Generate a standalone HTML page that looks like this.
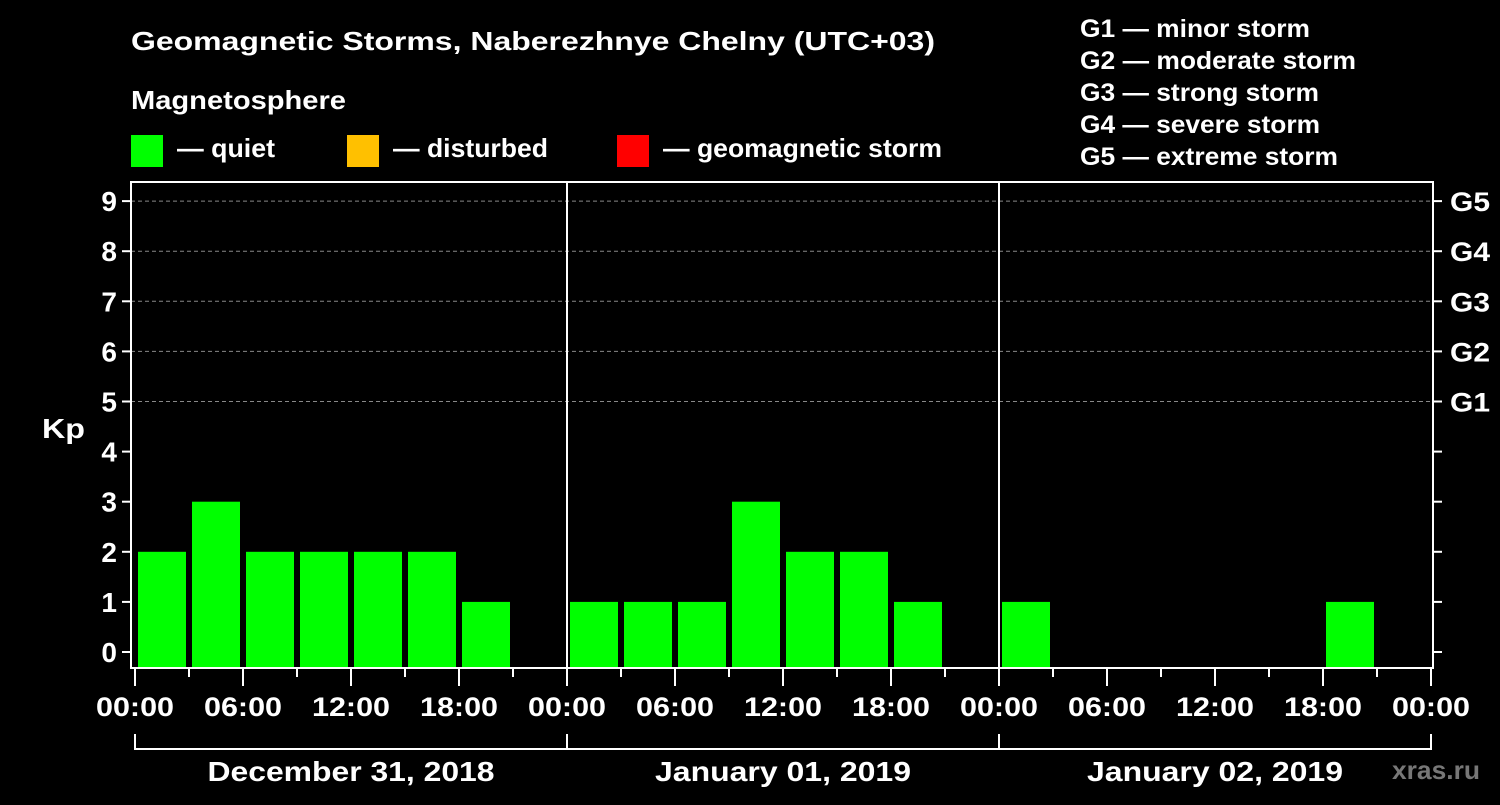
<!DOCTYPE html>
<html><head><meta charset="utf-8"><style>
body{margin:0;background:#000;width:1500px;height:800px;overflow:hidden}
svg text{font-family:"Liberation Sans",Arial,sans-serif;font-weight:bold;fill:#fff}
</style></head><body>
<svg id="c" width="1500" height="800" xmlns="http://www.w3.org/2000/svg">
<rect width="1500" height="800" fill="#000"/>
<text x="131" y="50" font-size="26" textLength="804" lengthAdjust="spacingAndGlyphs">Geomagnetic Storms, Naberezhnye Chelny (UTC+03)</text>
<text x="131" y="109" font-size="26" textLength="215" lengthAdjust="spacingAndGlyphs">Magnetosphere</text>
<rect x="131" y="135" width="32" height="32" fill="#00ff00"/>
<text x="177" y="157" font-size="26" textLength="98" lengthAdjust="spacingAndGlyphs">— quiet</text>
<rect x="347" y="135" width="32" height="32" fill="#ffc000"/>
<text x="393" y="157" font-size="26" textLength="155" lengthAdjust="spacingAndGlyphs">— disturbed</text>
<rect x="617" y="135" width="32" height="32" fill="#ff0000"/>
<text x="663" y="157" font-size="26" textLength="279" lengthAdjust="spacingAndGlyphs">— geomagnetic storm</text>
<g font-size="25">
<text x="1080" y="37" textLength="230" lengthAdjust="spacingAndGlyphs">G1 — minor storm</text>
<text x="1080" y="69" textLength="276" lengthAdjust="spacingAndGlyphs">G2 — moderate storm</text>
<text x="1080" y="101" textLength="239" lengthAdjust="spacingAndGlyphs">G3 — strong storm</text>
<text x="1080" y="133" textLength="240" lengthAdjust="spacingAndGlyphs">G4 — severe storm</text>
<text x="1080" y="165" textLength="258" lengthAdjust="spacingAndGlyphs">G5 — extreme storm</text>
</g>
<text x="42" y="438" font-size="28" textLength="43" lengthAdjust="spacingAndGlyphs">Kp</text>
<text x="1392" y="779" font-size="26" textLength="88" lengthAdjust="spacingAndGlyphs" style="fill:#777">xras.ru</text>
<g id="plot"></g>
</svg>
<script>
const kpValues=[2,3,2,2,2,2,1,0, 1,1,1,3,2,2,1,0, 1,0,0,0,0,0,1,0];
const yTicks=[0,1,2,3,4,5,6,7,8,9];
const gLabels=["G1","G2","G3","G4","G5"];
const xTickLabels=["00:00","06:00","12:00","18:00"];
const dayLabels=["December 31, 2018","January 01, 2019","January 02, 2019"];
const NS="http://www.w3.org/2000/svg";
const g=document.getElementById('plot');
const X0=135,DAY=432,L=131,R=1433,T=182,B=668;
const x=h=>X0+h*DAY/24;
const y=v=>652-v*50.1;
function mk(t,a){const e=document.createElementNS(NS,t);for(const k in a)e.setAttribute(k,a[k]);g.appendChild(e);return e;}
yTicks.forEach(v=>{
 if(v>=5){const l=mk('line',{x1:L,x2:R,y1:y(v),y2:y(v),stroke:'#888','stroke-dasharray':'4,3'});
 
 }
 const t=mk('line',{x1:L-9,x2:L,y1:y(v),y2:y(v),stroke:'#fff','stroke-width':2});
 
 
 const t2=mk('line',{x1:R,x2:R+9,y1:y(v),y2:y(v),stroke:'#fff','stroke-width':2});
 
 
 const tx=mk('text',{x:L-14,y:y(v)+10,'font-size':28,'text-anchor':'end'});tx.textContent=v;
 
 
});
gLabels.forEach((s,i)=>{const tx=mk('text',{x:1450,y:y(i+5)+10,'font-size':27,textLength:40,lengthAdjust:'spacingAndGlyphs'});tx.textContent=s;
 
 });
kpValues.forEach((v,i)=>{if(v<=0)return;
 const r=mk('rect',{x:x(i*3)+3,y:y(v),width:48,height:B-y(v),fill:v>=5?'#ff0000':(v>=4?'#ffc000':'#00ff00')});
 
 });
[1,2].forEach(d=>{const l=mk('line',{x1:x(d*24),x2:x(d*24),y1:T,y2:B,stroke:'#fff','stroke-width':2});
 
 });
const fr=mk('rect',{x:L,y:T,width:R-L,height:B-T,fill:'none',stroke:'#fff','stroke-width':2});


for(let h=0;h<=72;h+=3){const maj=h%6==0;
 const l=mk('line',{x1:x(h),x2:x(h),y1:B,y2:B+(maj?18:9),stroke:'#fff','stroke-width':2});
 
 
 if(maj){const tx=mk('text',{x:x(h)-39,y:716,'font-size':27,textLength:78,lengthAdjust:'spacingAndGlyphs'});tx.textContent=xTickLabels[(h%24)/6];
 
 }}
dayLabels.forEach((s,d)=>{
 const p=mk('path',{d:`M${x(d*24)} 734V749H${x(d*24+24)}`+(d==2?'V734':''),fill:'none',stroke:'#fff','stroke-width':2});
 
 
 const w=d==0?287:(d==1?256:256);
 const tx=mk('text',{x:x(d*24+12)-w/2,y:781,'font-size':28,textLength:w,lengthAdjust:'spacingAndGlyphs'});tx.textContent=s;
 
 });
</script>
</body></html>
